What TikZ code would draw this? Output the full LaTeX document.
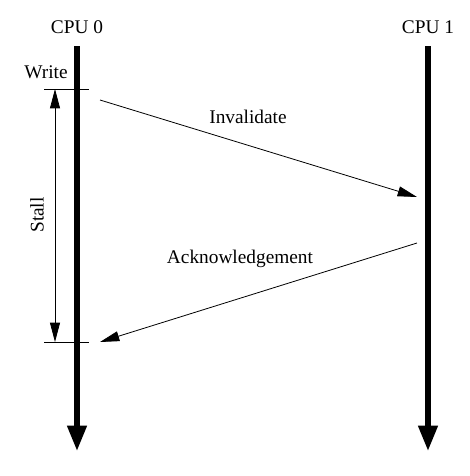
\documentclass[tikz,border=0pt]{standalone}
\usepackage{fontspec}
\setmainfont{Liberation Serif}
\usetikzlibrary{arrows.meta}
\begin{document}
\begin{tikzpicture}[x=0.75pt,y=-0.75pt,
  lbl/.style={font=\fontsize{14.5}{17}\selectfont, inner sep=0pt},
  cpuline/.style={line width=4pt,-{Triangle[length=19pt,width=14pt]}},
  msg/.style={line width=0.6pt,-{Triangle[length=14.5pt,width=7.5pt]}},
  tick/.style={line width=0.6pt},
  stallarrow/.style={line width=0.6pt,{Triangle[length=14.5pt,width=7.5pt]}-{Triangle[length=14.5pt,width=7.5pt]}}]
\useasboundingbox (0,0) rectangle (470,476);
\coordinate (c0top) at (77,46);
\coordinate (c0bot) at (77,451);
\coordinate (c1top) at (428,46);
\coordinate (c1bot) at (428,451);
\draw[cpuline] (c0top) -- (c0bot);
\draw[cpuline] (c1top) -- (c1bot);
\node[lbl] (cpu0) at (77,27) {CPU 0};
\node[lbl] (cpu1) at (428,27) {CPU 1};
\node[lbl] (write) at (46,72) {Write};
\coordinate (t1a) at (44,89);
\coordinate (t1b) at (89,89);
\coordinate (t2a) at (44,342);
\coordinate (t2b) at (89,342);
\draw[tick] (t1a) -- (t1b);
\draw[tick] (t2a) -- (t2b);
\coordinate (s1) at (55,89);
\coordinate (s2) at (55,342);
\draw[stallarrow] (s1) -- (s2);
\node[lbl,rotate=90] (stall) at (37,215) {Stall};
\coordinate (i1) at (100,100);
\coordinate (i2) at (417,197);
\draw[msg] (i1) -- (i2);
\node[lbl] (inv) at (248,117) {Invalidate};
\coordinate (a1) at (417,243);
\coordinate (a2) at (100,342);
\draw[msg] (a1) -- (a2);
\node[lbl] (ack) at (240,259) {Acknowledgement};
\end{tikzpicture}
\end{document}
